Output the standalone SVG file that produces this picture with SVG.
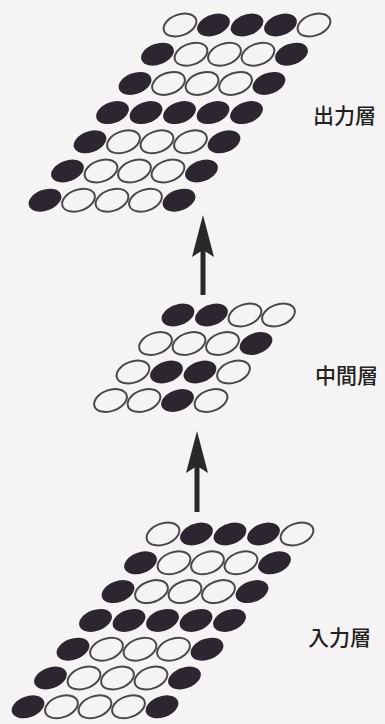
<svg xmlns="http://www.w3.org/2000/svg" xmlns:xlink="http://www.w3.org/1999/xlink" width="385" height="724" viewBox="0 0 385 724">
<style>
.f{fill:#2b2630;stroke:none}
.o{fill:none;stroke:#4a4848;stroke-width:2}
.lbl{font-family:"Noto Sans CJK JP","Noto Sans CJK SC",sans-serif;font-size:21px;font-weight:500;fill:#222}
.shaft{stroke:#2a2828;stroke-width:5;fill:none}
</style>
<defs>
<ellipse id="e" cx="0" cy="0" rx="17" ry="10.5" transform="rotate(-20)"/>
<marker id="ah" markerUnits="userSpaceOnUse" markerWidth="44" markerHeight="24" viewBox="0 0 44 24" refX="7" refY="12" orient="auto">
<path d="M0,1 L42,12 L0,23 L7,12 Z" fill="#2a2828"/>
</marker>
</defs>
<rect width="385" height="724" fill="#f5f3f3"/>

<g id="output-layer">
<use href="#e" x="180" y="25" class="o"/><use href="#e" x="213.5" y="25" class="f"/><use href="#e" x="247" y="25" class="f"/><use href="#e" x="280.5" y="25" class="f"/><use href="#e" x="314" y="25" class="o"/>
<use href="#e" x="157.5" y="54.2" class="f"/><use href="#e" x="191" y="54.2" class="o"/><use href="#e" x="224.5" y="54.2" class="o"/><use href="#e" x="258" y="54.2" class="o"/><use href="#e" x="291.5" y="54.2" class="f"/>
<use href="#e" x="135" y="83.4" class="f"/><use href="#e" x="168.5" y="83.4" class="o"/><use href="#e" x="202" y="83.4" class="o"/><use href="#e" x="235.5" y="83.4" class="o"/><use href="#e" x="269" y="83.4" class="f"/>
<use href="#e" x="112.5" y="112.6" class="f"/><use href="#e" x="146" y="112.6" class="f"/><use href="#e" x="179.5" y="112.6" class="f"/><use href="#e" x="213" y="112.6" class="f"/><use href="#e" x="246.5" y="112.6" class="f"/>
<use href="#e" x="90" y="141.8" class="f"/><use href="#e" x="123.5" y="141.8" class="o"/><use href="#e" x="157" y="141.8" class="o"/><use href="#e" x="190.5" y="141.8" class="o"/><use href="#e" x="224" y="141.8" class="f"/>
<use href="#e" x="67.5" y="171" class="f"/><use href="#e" x="101" y="171" class="o"/><use href="#e" x="134.5" y="171" class="o"/><use href="#e" x="168" y="171" class="o"/><use href="#e" x="201.5" y="171" class="f"/>
<use href="#e" x="45" y="200.2" class="f"/><use href="#e" x="78.5" y="200.2" class="o"/><use href="#e" x="112" y="200.2" class="o"/><use href="#e" x="145.5" y="200.2" class="o"/><use href="#e" x="179" y="200.2" class="f"/>
</g>

<g id="middle-layer">
<use href="#e" x="178" y="315" class="f"/><use href="#e" x="211.5" y="315" class="f"/><use href="#e" x="245" y="315" class="o"/><use href="#e" x="278.5" y="315" class="o"/>
<use href="#e" x="155.5" y="343.5" class="o"/><use href="#e" x="189" y="343.5" class="o"/><use href="#e" x="222.5" y="343.5" class="o"/><use href="#e" x="256" y="343.5" class="f"/>
<use href="#e" x="133" y="372" class="o"/><use href="#e" x="166.5" y="372" class="f"/><use href="#e" x="200" y="372" class="f"/><use href="#e" x="233.5" y="372" class="o"/>
<use href="#e" x="110.5" y="400.5" class="o"/><use href="#e" x="144" y="400.5" class="o"/><use href="#e" x="177.5" y="400.5" class="f"/><use href="#e" x="211" y="400.5" class="o"/>
</g>

<g id="input-layer">
<use href="#e" x="163" y="534" class="o"/><use href="#e" x="196.5" y="534" class="f"/><use href="#e" x="230" y="534" class="f"/><use href="#e" x="263.5" y="534" class="f"/><use href="#e" x="297" y="534" class="o"/>
<use href="#e" x="140.5" y="562.8" class="f"/><use href="#e" x="174" y="562.8" class="o"/><use href="#e" x="207.5" y="562.8" class="o"/><use href="#e" x="241" y="562.8" class="o"/><use href="#e" x="274.5" y="562.8" class="f"/>
<use href="#e" x="118" y="591.6" class="f"/><use href="#e" x="151.5" y="591.6" class="o"/><use href="#e" x="185" y="591.6" class="o"/><use href="#e" x="218.5" y="591.6" class="o"/><use href="#e" x="252" y="591.6" class="f"/>
<use href="#e" x="95.5" y="620.4" class="f"/><use href="#e" x="129" y="620.4" class="f"/><use href="#e" x="162.5" y="620.4" class="f"/><use href="#e" x="196" y="620.4" class="f"/><use href="#e" x="229.5" y="620.4" class="f"/>
<use href="#e" x="73" y="649.2" class="f"/><use href="#e" x="106.5" y="649.2" class="o"/><use href="#e" x="140" y="649.2" class="o"/><use href="#e" x="173.5" y="649.2" class="o"/><use href="#e" x="207" y="649.2" class="f"/>
<use href="#e" x="50.5" y="678" class="f"/><use href="#e" x="84" y="678" class="o"/><use href="#e" x="117.5" y="678" class="o"/><use href="#e" x="151" y="678" class="o"/><use href="#e" x="184.5" y="678" class="f"/>
<use href="#e" x="28" y="706.8" class="f"/><use href="#e" x="61.5" y="706.8" class="o"/><use href="#e" x="95" y="706.8" class="o"/><use href="#e" x="128.5" y="706.8" class="o"/><use href="#e" x="162" y="706.8" class="f"/>
</g>

<g id="label-output"><text class="lbl" x="313" y="123">出力層</text></g>
<g id="label-middle"><text class="lbl" x="315" y="383">中間層</text></g>
<g id="label-input"><text class="lbl" x="308" y="645">入力層</text></g>

<g id="connectors">
<line class="shaft" x1="203" y1="295" x2="203" y2="250" marker-end="url(#ah)"/>
<line class="shaft" x1="197" y1="512" x2="197" y2="466" marker-end="url(#ah)"/>
</g>
</svg>
